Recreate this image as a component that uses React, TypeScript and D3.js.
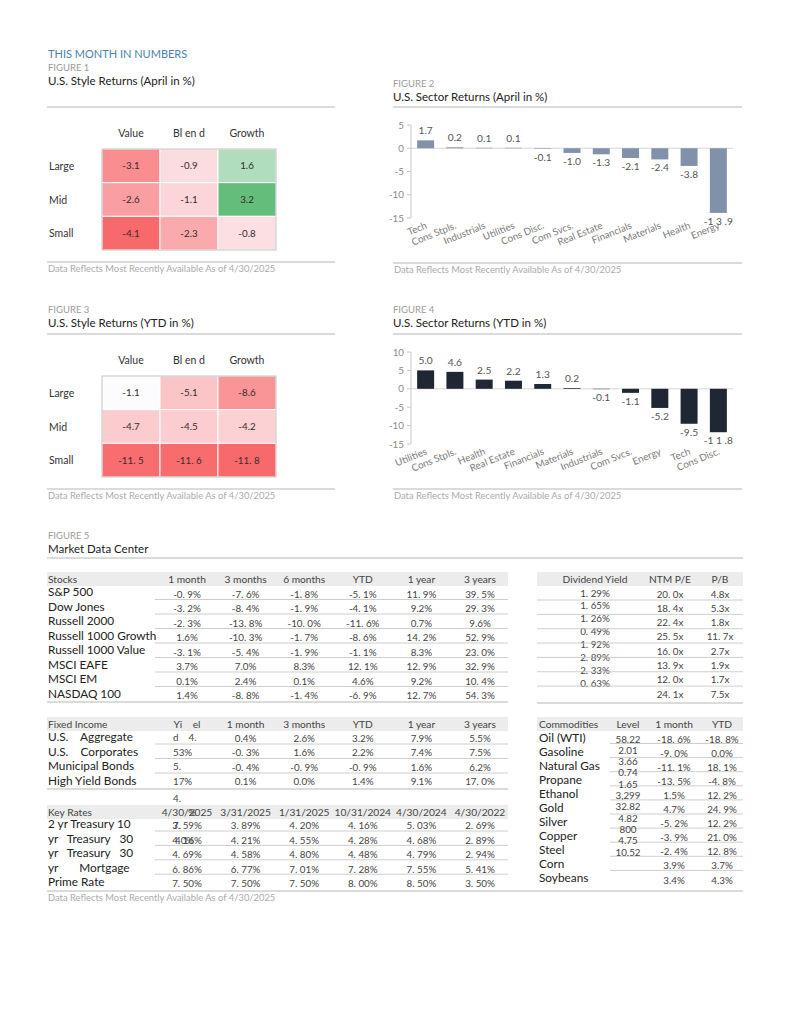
import * as d3 from "d3";

const FONT = "Lato, 'Open Sans', 'DejaVu Sans', sans-serif";

// figure 1 / 3 : style boxes
const styleCols = ["Value", "Bl en d", "Growth"];
const styleRows = ["Large", "Mid", "Small"];
const styleApril = [
  [-3.1, -0.9, 1.6],
  [-2.6, -1.1, 3.2],
  [-4.1, -2.3, -0.8],
];
const styleAprilLabels = [
  ["-3.1", "-0.9", "1.6"],
  ["-2.6", "-1.1", "3.2"],
  ["-4.1", "-2.3", "-0.8"],
];
const styleYtd = [
  [-1.1, -5.1, -8.6],
  [-4.7, -4.5, -4.2],
  [-11.5, -11.6, -11.8],
];
const styleYtdLabels = [
  ["-1.1", "-5.1", "-8.6"],
  ["-4.7", "-4.5", "-4.2"],
  ["-11. 5", "-11. 6", "-11. 8"],
];

// figure 2 / 4 : sector bars
const sectorAprilNames = ["Tech", "Cons Stpls.", "Industrials", "Utilities", "Cons Disc.", "Com Svcs.", "Real Estate", "Financials", "Materials", "Health", "Energy"];
const sectorAprilValues = [1.7, 0.2, 0.1, 0.1, -0.1, -1.0, -1.3, -2.1, -2.4, -3.8, -13.9];
const sectorAprilLabels = ["1.7", "0.2", "0.1", "0.1", "-0.1", "-1.0", "-1.3", "-2.1", "-2.4", "-3.8", "-1 3 .9"];
const sectorAprilTicks = [5, 0, -5, -10, -15];

const sectorYtdNames = ["Utilities", "Cons Stpls.", "Health", "Real Estate", "Financials", "Materials", "Industrials", "Com Svcs.", "Energy", "Tech", "Cons Disc."];
const sectorYtdValues = [5.0, 4.6, 2.5, 2.2, 1.3, 0.2, -0.1, -1.1, -5.2, -9.5, -11.8];
const sectorYtdLabels = ["5.0", "4.6", "2.5", "2.2", "1.3", "0.2", "-0.1", "-1.1", "-5.2", "-9.5", "-1 1 .8"];
const sectorYtdTicks = [10, 5, 0, -5, -10, -15];

// figure 5 : market data center
const periodCols = ["1 month", "3 months", "6 months", "YTD", "1 year", "3 years"];
const stockNames = ["S&P 500", "Dow Jones", "Russell 2000", "Russell 1000 Growth", "Russell 1000 Value", "MSCI EAFE", "MSCI EM", "NASDAQ 100"];
const stockReturns = [
  ["-0. 9%", "-7. 6%", "-1. 8%", "-5. 1%", "11. 9%", "39. 5%"],
  ["-3. 2%", "-8. 4%", "-1. 9%", "-4. 1%", "9.2%", "29. 3%"],
  ["-2. 3%", "-13. 8%", "-10. 0%", "-11. 6%", "0.7%", "9.6%"],
  ["1.6%", "-10. 3%", "-1. 7%", "-8. 6%", "14. 2%", "52. 9%"],
  ["-3. 1%", "-5. 4%", "-1. 9%", "-1. 1%", "8.3%", "23. 0%"],
  ["3.7%", "7.0%", "8.3%", "12. 1%", "12. 9%", "32. 9%"],
  ["0.1%", "2.4%", "0.1%", "4.6%", "9.2%", "10. 4%"],
  ["1.4%", "-8. 8%", "-1. 4%", "-6. 9%", "12. 7%", "54. 3%"],
];
const valuationCols = ["Dividend Yield", "NTM P/E", "P/B"];
const dividendYield = ["1. 29%", "1. 65%", "1. 26%", "0. 49%", "1. 92%", "2. 89%", "2. 33%", "0. 63%"];
const ntmPe = ["20. 0x", "18. 4x", "22. 4x", "25. 5x", "16. 0x", "13. 9x", "12. 0x", "24. 1x"];
const priceBook = ["4.8x", "5.3x", "1.8x", "11. 7x", "2.7x", "1.9x", "1.7x", "7.5x"];

const fixedCols = ["Yi    el", "1 month", "3 months", "YTD", "1 year", "3 years"];
const fixedNames = ["U.S.    Aggregate", "U.S.    Corporates", "Municipal Bonds", "High Yield Bonds"];
const fixedYieldBits = ["d    4.", "53%", "5.", "17%", "4."];
const fixedReturns = [
  ["0.4%", "2.6%", "3.2%", "7.9%", "5.5%"],
  ["-0. 3%", "1.6%", "2.2%", "7.4%", "7.5%"],
  ["-0. 4%", "-0. 9%", "-0. 9%", "1.6%", "6.2%"],
  ["0.1%", "0.0%", "1.4%", "9.1%", "17. 0%"],
];

const rateCols = ["4/30/2025", "3/31/2025", "1/31/2025", "10/31/2024", "4/30/2024", "4/30/2022"];
const rateNames = ["2 yr Treasury 10", "yr   Treasury   30", "yr   Treasury   30", "yr       Mortgage", "Prime Rate"];
const rateValues = [
  ["3. 59%", "3. 89%", "4. 20%", "4. 16%", "5. 03%", "2. 69%"],
  ["4. 16%", "4. 21%", "4. 55%", "4. 28%", "4. 68%", "2. 89%"],
  ["4. 69%", "4. 58%", "4. 80%", "4. 48%", "4. 79%", "2. 94%"],
  ["6. 86%", "6. 77%", "7. 01%", "7. 28%", "7. 55%", "5. 41%"],
  ["7. 50%", "7. 50%", "7. 50%", "8. 00%", "8. 50%", "3. 50%"],
];
const rateOverprint = ["7.", "40%"];

const commodityCols = ["Level", "1 month", "YTD"];
const commodityNames = ["Oil (WTI)", "Gasoline", "Natural Gas", "Propane", "Ethanol", "Gold", "Silver", "Copper", "Steel", "Corn", "Soybeans"];
const commodityLevels = ["58.22", "2.01", "3.66", "0.74", "1.65", "3,299", "32.82", "4.82", "800", "4.75", "10.52"];
const commodityMonth = ["-18. 6%", "-9. 0%", "-11. 1%", "-13. 5%", "1.5%", "4.7%", "-5. 2%", "-3. 9%", "-2. 4%", "3.9%", "3.4%"];
const commodityYtd = ["-18. 8%", "0.0%", "18. 1%", "-4. 8%", "12. 2%", "24. 9%", "12. 2%", "21. 0%", "12. 8%", "3.7%", "4.3%"];

const NOTE = "Data Reflects Most Recently Available As of 4/30/2025";

const pre = { whiteSpace: "pre" as const };

function Heading({ x, y, fig, title }: { x: number; y: number; fig: string; title: string }) {
  return (
    <g>
      <text x={x} y={y} fontSize={9.5} fill="#9a9a9a">{fig}</text>
      <text x={x} y={y + 14} fontSize={11.5} fill="#222">{title}</text>
    </g>
  );
}

function Rule({ x1, x2, y, w = 1.4, c = "#cfcfcf" }: { x1: number; x2: number; y: number; w?: number; c?: string }) {
  return <line x1={x1} x2={x2} y1={y} y2={y} stroke={c} strokeWidth={w} />;
}

function Note({ x, y, x2 }: { x: number; y: number; x2: number }) {
  return (
    <g>
      <Rule x1={x - 1} x2={x2} y={y} />
      <text x={x} y={y + 10} fontSize={9.4} fill="#ababab">{NOTE}</text>
    </g>
  );
}

function Heatmap({ top, values, labels }: { top: number; values: number[][]; labels: string[][] }) {
  const x = d3.scaleBand<string>().domain(styleCols).range([102, 276]);
  const y = d3.scaleBand<string>().domain(styleRows).range([top, top + 101]);
  const flat = values.flat();
  const mn = d3.min(flat) ?? 0;
  const mx = d3.max(flat) ?? 0;
  const color =
    mx > 0
      ? d3.scaleLinear<string>().domain([mn, 0, mx]).range(["#F8696B", "#FCFCFF", "#63BE7B"])
      : d3.scaleLinear<string>().domain([mn, mx]).range(["#F8696B", "#FCFCFF"]);
  return (
    <g>
      {styleCols.map((c) => (
        <text key={c} x={(x(c) ?? 0) + x.bandwidth() / 2} y={top - 12} textAnchor="middle" fontSize={10.5} fill="#333" style={pre}>
          {c}
        </text>
      ))}
      {styleRows.map((r, i) => (
        <g key={r}>
          <text x={49} y={(y(r) ?? 0) + y.bandwidth() / 2 + 4} fontSize={10.5} fill="#333">
            {r}
          </text>
          {styleCols.map((c, j) => (
            <g key={c}>
              <rect x={x(c)} y={y(r)} width={x.bandwidth()} height={y.bandwidth()} fill={color(values[i][j])} stroke="#fff" strokeWidth={1} />
              <text x={(x(c) ?? 0) + x.bandwidth() / 2} y={(y(r) ?? 0) + y.bandwidth() / 2 + 3.5} textAnchor="middle" fontSize={9.8} fill="#3a2a2a" style={pre}>
                {labels[i][j]}
              </text>
            </g>
          ))}
        </g>
      ))}
      <rect x={102} y={top} width={174} height={101} fill="none" stroke="#c4c4c4" strokeWidth={1} />
    </g>
  );
}

function SectorBars({ names, values, labels, ticks, top, bottom, fill }: { names: string[]; values: number[]; labels: string[]; ticks: number[]; top: number; bottom: number; fill: string }) {
  const x = d3.scaleBand<string>().domain(names).range([411, 733]).paddingInner(0.42).paddingOuter(0.21);
  const y = d3.scaleLinear().domain([d3.min(ticks) ?? 0, d3.max(ticks) ?? 0]).range([bottom, top]);
  const y0 = y(0);
  return (
    <g>
      <line x1={411} x2={733} y1={y0} y2={y0} stroke="#d6d6d6" strokeWidth={1} />
      <line x1={411} x2={411} y1={top} y2={bottom} stroke="#c8c8c8" strokeWidth={1} />
      {ticks.map((t) => (
        <g key={t}>
          <line x1={407} x2={411} y1={y(t)} y2={y(t)} stroke="#c8c8c8" />
          <text x={404} y={y(t) + 3.5} textAnchor="end" fontSize={9.8} fill="#8a8a8a">
            {t}
          </text>
        </g>
      ))}
      {names.map((n, i) => {
        const v = values[i];
        const bx = x(n) ?? 0;
        const cx = bx + x.bandwidth() / 2;
        return (
          <g key={n}>
            <rect x={bx} y={Math.min(y(v), y0)} width={x.bandwidth()} height={Math.abs(y(v) - y0)} fill={fill} />
            <text x={cx} y={v >= 0 ? y(v) - 6 : y(v) + 12} textAnchor="middle" fontSize={10.2} fill="#555" style={pre}>
              {labels[i]}
            </text>
            <text x={cx + 2} y={bottom + 10} textAnchor="end" fontSize={9.8} fill="#7a7a7a" transform={`rotate(-22 ${cx + 2} ${bottom + 10})`}>
              {n}
            </text>
          </g>
        );
      })}
    </g>
  );
}

export default function App() {
  const col = d3.scalePoint<string>().domain(periodCols).range([187, 480]);
  const colAt = (i: number) => col(periodCols[i]) ?? 0;
  const valCol = d3.scaleOrdinal<string, number>().domain(valuationCols).range([595, 670, 720]);
  const comCol = d3.scaleOrdinal<string, number>().domain(commodityCols).range([628, 674, 722]);

  const labelFont = 11.8;
  const cellFont = 9.8;
  const headFont = 10.2;

  return (
    <svg width={791} height={1024} style={{ position: "absolute", left: 0, top: 0, background: "#fff" }} fontFamily={FONT}>
      <rect width={791} height={1024} fill="#fff" />

      {/* Figure 1 */}
      <text x={48} y={58} fontSize={11} fill="#4a84ad">THIS MONTH IN NUMBERS</text>
      <Heading x={48} y={71} fig="FIGURE 1" title="U.S. Style Returns (April in %)" />
      <Rule x1={47} x2={335} y={107} />
      <Heatmap top={149} values={styleApril} labels={styleAprilLabels} />
      <Note x={48} y={262} x2={335} />

      {/* Figure 2 */}
      <Heading x={393} y={87} fig="FIGURE 2" title="U.S. Sector Returns (April in %)" />
      <Rule x1={393} x2={742} y={107} />
      <SectorBars names={sectorAprilNames} values={sectorAprilValues} labels={sectorAprilLabels} ticks={sectorAprilTicks} top={125} bottom={218} fill="#8191a9" />
      <Note x={394} y={263} x2={742} />

      {/* Figure 3 */}
      <Heading x={48} y={313} fig="FIGURE 3" title="U.S. Style Returns (YTD in %)" />
      <Rule x1={47} x2={335} y={334} />
      <Heatmap top={376} values={styleYtd} labels={styleYtdLabels} />
      <Note x={48} y={489} x2={335} />

      {/* Figure 4 */}
      <Heading x={393} y={313} fig="FIGURE 4" title="U.S. Sector Returns (YTD in %)" />
      <Rule x1={393} x2={742} y={334} />
      <SectorBars names={sectorYtdNames} values={sectorYtdValues} labels={sectorYtdLabels} ticks={sectorYtdTicks} top={352} bottom={444} fill="#1f2634" />
      <Note x={394} y={489} x2={742} />

      {/* Figure 5 */}
      <Heading x={48} y={539} fig="FIGURE 5" title="Market Data Center" />
      <Rule x1={47} x2={743} y={558} />

      {/* stocks */}
      <rect x={47} y={572} width={461} height={14} fill="#ececec" />
      <text x={48} y={583} fontSize={headFont} fill="#444">Stocks</text>
      {periodCols.map((c) => (
        <text key={c} x={col(c)} y={583} textAnchor="middle" fontSize={headFont} fill="#444">{c}</text>
      ))}
      {stockNames.map((n, i) => (
        <g key={n}>
          <text x={48} y={596 + 14.5 * i} fontSize={labelFont} fill="#222">{n}</text>
          {stockReturns[i].map((v, j) => (
            <text key={j} x={colAt(j)} y={597.5 + 14.5 * i} textAnchor="middle" fontSize={cellFont} fill="#444" style={pre}>{v}</text>
          ))}
          {i < stockNames.length - 1 && <Rule x1={155} x2={508} y={599.5 + 14.5 * i} w={0.8} c="#c2c2c2" />}
        </g>
      ))}
      <Rule x1={47} x2={508} y={702} w={1.6} />

      {/* valuation */}
      <rect x={537} y={572} width={206} height={14} fill="#ececec" />
      {valuationCols.map((c) => (
        <text key={c} x={valCol(c)} y={583} textAnchor="middle" fontSize={headFont} fill="#444">{c}</text>
      ))}
      {dividendYield.map((v, i) => (
        <text key={i} x={valCol("Dividend Yield")} y={596.5 + 12.9 * i} textAnchor="middle" fontSize={cellFont} fill="#444" style={pre}>{v}</text>
      ))}
      {ntmPe.map((v, i) => (
        <g key={i}>
          <text x={valCol("NTM P/E")} y={597.5 + 14.3 * i} textAnchor="middle" fontSize={cellFont} fill="#444" style={pre}>{v}</text>
          <text x={valCol("P/B")} y={597.5 + 14.3 * i} textAnchor="middle" fontSize={cellFont} fill="#444" style={pre}>{priceBook[i]}</text>
          {i < ntmPe.length - 1 && <Rule x1={537} x2={743} y={600 + 14.35 * i} w={0.8} c="#c2c2c2" />}
        </g>
      ))}
      <Rule x1={537} x2={743} y={703} w={1.6} />

      {/* fixed income */}
      <rect x={47} y={717} width={461} height={14} fill="#ececec" />
      <text x={48} y={728} fontSize={headFont} fill="#444">Fixed Income</text>
      {fixedCols.map((c, j) => (
        <text key={c} x={colAt(j)} y={728} textAnchor="middle" fontSize={headFont} fill="#444" style={pre}>{c}</text>
      ))}
      {fixedYieldBits.map((b, i) => (
        <text key={i} x={173} y={741 + 14.6 * i + (i === 4 ? 3 : 0)} fontSize={cellFont} fill="#444" style={pre}>{b}</text>
      ))}
      {fixedNames.map((n, i) => (
        <g key={n}>
          <text x={48} y={741 + 14.6 * i} fontSize={labelFont} fill="#222" style={pre}>{n}</text>
          {fixedReturns[i].map((v, j) => (
            <text key={j} x={colAt(j + 1)} y={741.5 + 14.6 * i} textAnchor="middle" fontSize={cellFont} fill="#444" style={pre}>{v}</text>
          ))}
          {i < fixedNames.length - 1 && <Rule x1={155} x2={508} y={744 + 14.5 * i} w={0.8} c="#c2c2c2" />}
        </g>
      ))}
      <Rule x1={47} x2={508} y={789} w={1.6} />

      {/* key rates */}
      <rect x={47} y={805} width={461} height={14} fill="#ececec" />
      <text x={48} y={816} fontSize={headFont} fill="#444">Key Rates</text>
      {rateCols.map((c, j) => (
        <text key={c} x={colAt(j)} y={816} textAnchor="middle" fontSize={headFont} fill="#444">{c}</text>
      ))}
      <text x={colAt(0) + 1} y={816} fontSize={headFont} fill="#444">%</text>
      {rateNames.map((n, i) => (
        <g key={i}>
          <text x={48} y={828 + 14.5 * i} fontSize={labelFont} fill="#222" style={pre}>{n}</text>
          {rateValues[i].map((v, j) => (
            <text key={j} x={colAt(j)} y={829 + 14.5 * i} textAnchor="middle" fontSize={cellFont} fill="#444" style={pre}>{v}</text>
          ))}
          {i < rateNames.length - 1 && <Rule x1={155} x2={508} y={831 + 14.4 * i} w={0.8} c="#c2c2c2" />}
        </g>
      ))}
      {rateOverprint.map((b, i) => (
        <text key={i} x={173 + i * 2} y={829 + 14.5 * i} fontSize={cellFont} fill="#444">{b}</text>
      ))}

      {/* commodities */}
      <rect x={537} y={717} width={206} height={14} fill="#ececec" />
      <text x={539} y={728} fontSize={headFont} fill="#444">Commodities</text>
      {commodityCols.map((c) => (
        <text key={c} x={comCol(c)} y={728} textAnchor="middle" fontSize={headFont} fill="#444">{c}</text>
      ))}
      {commodityNames.map((n, i) => (
        <g key={n}>
          <text x={539} y={741.5 + 14 * i} fontSize={labelFont} fill="#222">{n}</text>
          <text x={comCol("Level")} y={742.5 + 11.3 * i} textAnchor="middle" fontSize={cellFont} fill="#444">{commodityLevels[i]}</text>
          <text x={comCol("1 month")} y={742.5 + 14.1 * i} textAnchor="middle" fontSize={cellFont} fill="#444" style={pre}>{commodityMonth[i]}</text>
          <text x={comCol("YTD")} y={742.5 + 14.1 * i} textAnchor="middle" fontSize={cellFont} fill="#444" style={pre}>{commodityYtd[i]}</text>
          {i < commodityNames.length - 1 && <Rule x1={610} x2={743} y={743.5 + 14.1 * i} w={0.8} c="#c2c2c2" />}
        </g>
      ))}
      <Rule x1={47} x2={743} y={891} w={1.6} />

      <text x={48} y={901} fontSize={9.4} fill="#ababab">{NOTE}</text>
    </svg>
  );
}
